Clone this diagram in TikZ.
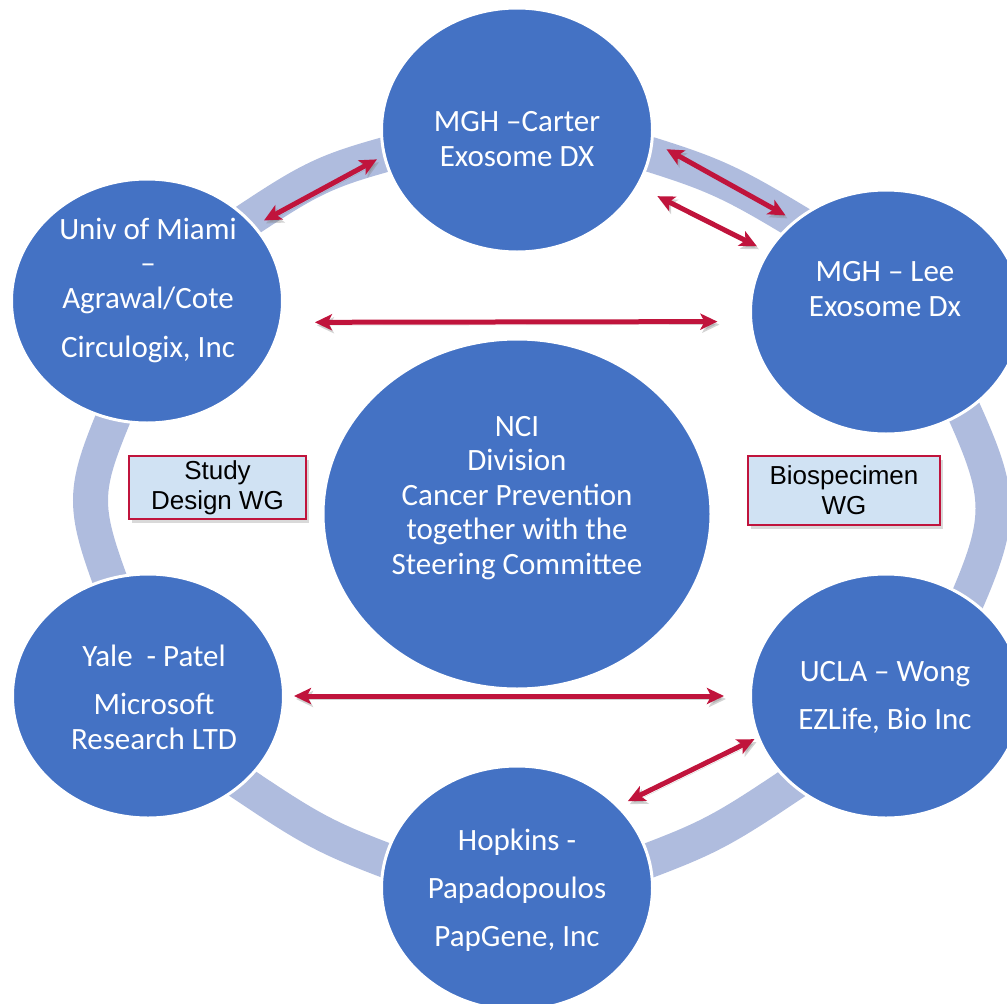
\documentclass[tikz,border=0pt]{standalone}
\usepackage{fontspec}
\setmainfont{Carlito}
\newfontfamily\boxfont{Liberation Sans}
\usepackage{tikz}
\usetikzlibrary{arrows.meta}
\usetikzlibrary{shapes.geometric}
\usetikzlibrary{shadows}

\definecolor{bubbleblue}{HTML}{4472C4}
\definecolor{ringblue}{HTML}{AFBCDE}
\definecolor{linkred}{HTML}{C0143C}
\definecolor{wgfill}{HTML}{D0E2F3}

\begin{document}
\begin{tikzpicture}[
    x=1pt, y=-1pt,
    >={Stealth[length=17pt, width=16pt, inset=4pt]},
    ringpart/.style={ringblue, line width=35pt},
    bubble/.style={ellipse, fill=bubbleblue, draw=white, line width=3pt,
      minimum width=271pt, minimum height=244pt, inner sep=0pt},
    bubbletext/.style={text=white, align=center,
      font=\fontsize{31}{34.5}\selectfont},
    wgbox/.style={draw=linkred, line width=2pt, fill=wgfill, inner sep=0pt,
      align=center, font=\boxfont\fontsize{26}{30}\selectfont,
      drop shadow={shadow xshift=3pt, shadow yshift=-4pt, opacity=0.3}},
    link/.style={<->, linkred, line width=5pt,
      preaction={draw=black!50, opacity=0.35,
        transform canvas={xshift=2pt, yshift=-3pt}}}
  ]

  \useasboundingbox (0, 0) rectangle (1007, 1004);
  \clip (0, 0) rectangle (1007, 1004);

  % ring pieces, their ends hide under the bubbles
  \draw [ringpart] (215, 242) .. controls (318.5, 172.5) .. (420, 145);
  \draw [ringpart] (610, 142) .. controls (722.5, 176.5) .. (835, 245);
  \draw [ringpart] (945, 370) .. controls (1009, 508) .. (945, 650);
  \draw [ringpart] (820, 765) .. controls (715, 836) .. (610, 875);
  \draw [ringpart] (215, 765) .. controls (320, 836) .. (425, 875);
  \draw [ringpart] (125, 390) .. controls (79, 499) .. (125, 620);

  \node [bubble] (carter) at (517, 130) {};
  \node [bubble] (miami) at (147, 301) {};
  \node [bubble] (lee) at (886, 312) {};
  \node [bubble] (yale) at (148, 696) {};
  \node [bubble] (ucla) at (886, 696) {};
  \node [bubble] (hopkins) at (517, 888) {};
  \node [bubble, minimum width=388pt, minimum height=350pt] (nci) at (517, 514) {};

  \node [wgbox, minimum width=177pt, minimum height=63pt] (study) at (217.5, 487.5)
    {Study\\Design WG};
  \node [wgbox, minimum width=192pt, minimum height=69pt] (biospec) at (844, 490.5)
    {Biospecimen\\WG};

  \draw [link, shorten <=10pt, shorten >=7pt] (miami.35.5) -- (carter.191.4);
  \draw [link, shorten <=15pt, shorten >=10pt] (carter.-5.7) -- (lee.135.3);
  \draw [link, shorten <=21pt, shorten >=11pt] (carter.-25.1) -- (lee.153.1);
  \draw [link, shorten <=33pt, shorten >=32pt] (miami.-9.3) -- (lee.184.6);
  \draw [link, shorten <=9pt, shorten >=25pt] (yale.east) -- (ucla.west);
  \draw [link, shorten <=3pt, shorten >=10pt] (ucla.198.3) -- (hopkins.39.8);

  \node [bubbletext] (carter-txt) at (517, 139) {MGH –Carter\\Exosome DX};
  \node [bubbletext] (miami-txt) at (148, 290.5)
    {Univ of Miami\\–\\Agrawal/Cote\\[15pt]Circulogix, Inc};
  \node [bubbletext] (lee-txt) at (885, 289) {MGH – Lee\\Exosome Dx};
  \node [bubbletext] (nci-txt) at (517, 498)
    {NCI\\Division\\Cancer Prevention\\together with the\\Steering Committee};
  \node [bubbletext] (yale-txt) at (154, 697.5)
    {Yale\ \ - Patel\\[13.5pt]Microsoft\\Research LTD};
  \node [bubbletext] (ucla-txt) at (885, 697) {UCLA – Wong\\[13.5pt]EZLife, Bio Inc};
  \node [bubbletext] (hopkins-txt) at (517, 890)
    {Hopkins -\\[13.5pt]Papadopoulos\\[13.5pt]PapGene, Inc};

\end{tikzpicture}
\end{document}
